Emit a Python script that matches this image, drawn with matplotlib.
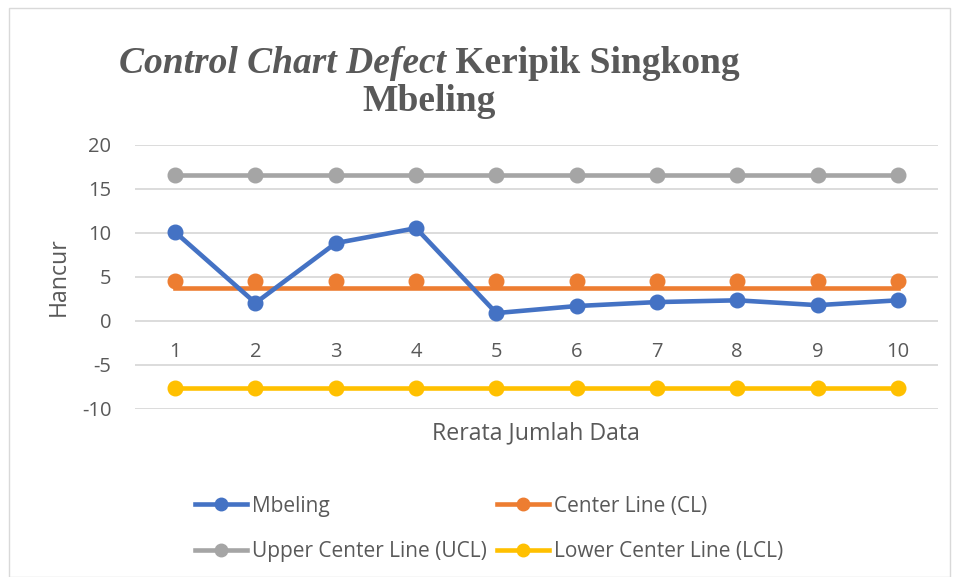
import numpy as np
import matplotlib.pyplot as plt
from matplotlib.lines import Line2D
from matplotlib.patches import Rectangle

plt.rcParams['axes.unicode_minus'] = False
plt.rcParams['font.family'] = ['Open Sans', 'DejaVu Sans']

samples = [1, 2, 3, 4, 5, 6, 7, 8, 9, 10]
mbeling = [10.1, 2.05, 8.85, 10.55, 0.9, 1.7, 2.15, 2.35, 1.8, 2.35]
cl_points = [4.5] * 10
cl_line = [3.8] * 10
ucl = [16.6] * 10
lcl = [-7.6] * 10
yticks = [-10, -5, 0, 5, 10, 15, 20]

blue = '#4472C4'
orange = '#ED7D31'
gray = '#A5A5A5'
yellow = '#FFC000'
txt = '#595959'

fig = plt.figure(figsize=(9.59, 5.77), dpi=100)
W, H = 959, 577
fig.patches.append(Rectangle((9 / W, 0), (950 - 9) / W, 1 - 8 / H,
                             transform=fig.transFigure, fill=False,
                             edgecolor='#D9D9D9', linewidth=1))

ax = fig.add_axes([135 / W, 1 - 409 / H, (938 - 135) / W, (409 - 145) / H])

lw = 3.3
ms = 10.5
ax.plot(samples, mbeling, color=blue, lw=lw, marker='o', ms=ms, zorder=5)
ax.plot(samples, cl_points, color=orange, lw=0, marker='o', ms=ms, zorder=4)
ax.plot(samples, cl_line, color=orange, lw=lw, zorder=4)
ax.plot(samples, ucl, color=gray, lw=lw, marker='o', ms=ms, zorder=3)
ax.plot(samples, lcl, color=yellow, lw=lw, marker='o', ms=ms, zorder=3)

ax.set_xlim(0.5, 10.5)
ax.set_ylim(-10, 20)
ax.set_yticks(yticks)
ax.set_xticks(samples)
ax.yaxis.grid(True, color='#D9D9D9', lw=1.3)
ax.set_axisbelow(True)
for s in ['top', 'right', 'left']:
    ax.spines[s].set_visible(False)
ax.spines['bottom'].set_position(('data', 0))
ax.spines['bottom'].set_visible(False)
ax.tick_params(axis='both', length=0, labelsize=14.5, labelcolor=txt)
ax.tick_params(axis='x', pad=15)
ax.tick_params(axis='y', pad=17)

fig.text(59 / W, 1 - 277 / H, 'Hancur', rotation=90, ha='center', va='center',
         fontsize=16.7, color=txt)
fig.text(536 / W, 1 - 433 / H, 'Rerata Jumlah Data', ha='center', va='center',
         fontsize=16.7, color=txt)

# title: italic part + bold part, centred as a whole
r = fig.canvas.get_renderer()
tfont = 'Liberation Serif'
t1 = fig.text(0, 1 - 73 / H, 'Control Chart Defect', fontsize=27, family=tfont,
              style='italic', weight='bold', color=txt, va='baseline')
t2 = fig.text(0, 1 - 73 / H, ' Keripik Singkong', fontsize=27, family=tfont,
              weight='bold', color=txt, va='baseline')
w1 = t1.get_window_extent(r).width
w2 = t2.get_window_extent(r).width
x0 = 429 - (w1 + w2) / 2
t1.set_x(x0 / W)
t2.set_x((x0 + w1) / W)
fig.text(429 / W, 1 - 111 / H, 'Mbeling', fontsize=27, family=tfont,
         weight='bold', color=txt, ha='center', va='baseline')

handles = [
    Line2D([], [], color=blue, lw=lw, marker='o', ms=9),
    Line2D([], [], color=gray, lw=lw, marker='o', ms=9),
    Line2D([], [], color=orange, lw=lw, marker='o', ms=9),
    Line2D([], [], color=yellow, lw=lw, marker='o', ms=9),
]
labels = ['Mbeling', 'Upper Center Line (UCL)', 'Center Line (CL)', 'Lower Center Line (LCL)']
leg = fig.legend(handles, labels, ncol=2, frameon=False, fontsize=15,
                 loc='center left', bbox_to_anchor=(195 / W, 1 - 529 / H),
                 handlelength=2.5, handletextpad=0.25, columnspacing=0.45,
                 labelspacing=1.18, borderaxespad=0, borderpad=0)
for t in leg.get_texts():
    t.set_color(txt)

fig.savefig('out.png', dpi=100)
